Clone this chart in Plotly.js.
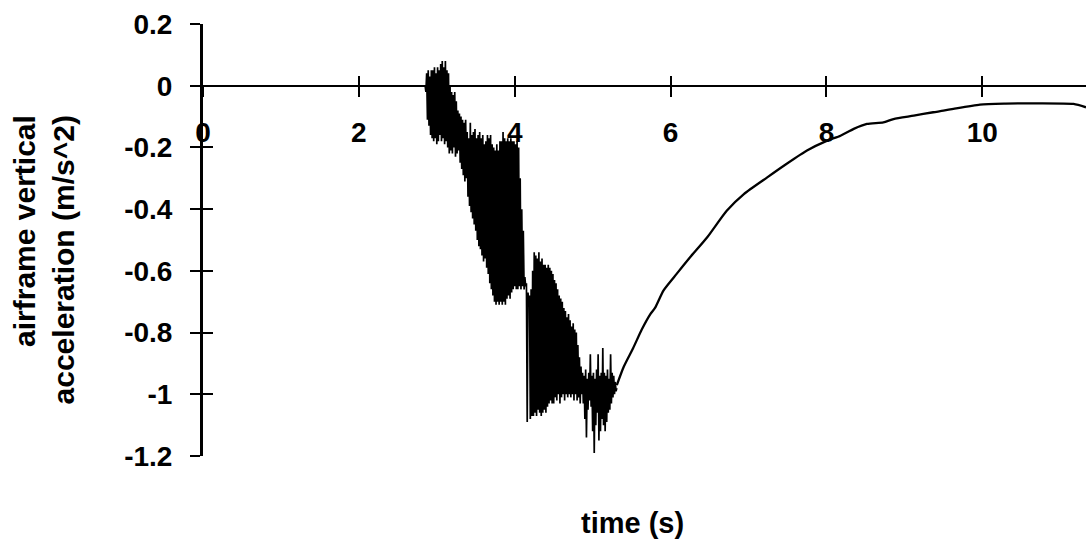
<!DOCTYPE html>
<html>
<head>
<meta charset="utf-8">
<script src="https://cdn.plot.ly/plotly-3.0.1.min.js"></script>
<style>html,body{margin:0;padding:0;background:#fff;}#chart{width:1086px;height:548px;}</style>
</head>
<body>
<div id="chart"></div>
<script>
// ---- data ----
const xTickVals = [0, 2, 4, 6, 8, 10];
const xTickText = ["0", "2", "4", "6", "8", "10"];
const yTickVals = [0.2, 0, -0.2, -0.4, -0.6, -0.8, -1, -1.2];
const yTickText = ["0.2", "0", "-0.2", "-0.4", "-0.6", "-0.8", "-1", "-1.2"];
const xRange = [0, 11.33];
const yRange = [-1.2, 0.2];

// quiet segment before the event
const quietTime = [0, 2.84];
const quietAccel = [0, 0];

// noisy segment, sampled every 0.01 s starting at t = 2.85 s
const noisyStart = 2.85;
const noisyStep = 0.01;
const noisyAccel = [
  0.00, -0.02, 0.04, -0.11, 0.05, -0.13, 0.03, -0.16, 0.05, -0.17,
  0.05, -0.18, 0.06, -0.17, 0.04, -0.19, 0.06, -0.18, 0.05, -0.16,
  0.07, -0.18, 0.08, -0.17, 0.06, -0.19, 0.08, -0.18, 0.05, -0.20,
  0.04, -0.22, 0.00, -0.21, -0.02, -0.22, -0.03, -0.20, -0.02, -0.23,
  -0.05, -0.22, -0.08, -0.21, -0.09, -0.25, -0.10, -0.27, -0.11, -0.29,
  -0.12, -0.31, -0.11, -0.30, -0.15, -0.36, -0.17, -0.39, -0.12, -0.41,
  -0.16, -0.43, -0.15, -0.45, -0.14, -0.47, -0.17, -0.50, -0.16, -0.52,
  -0.15, -0.53, -0.17, -0.55, -0.16, -0.57, -0.19, -0.56, -0.18, -0.59,
  -0.16, -0.61, -0.17, -0.64, -0.16, -0.66, -0.19, -0.68, -0.20, -0.70,
  -0.21, -0.71, -0.19, -0.70, -0.21, -0.71, -0.18, -0.70, -0.18, -0.71,
  -0.15, -0.70, -0.17, -0.71, -0.18, -0.69, -0.17, -0.68, -0.18, -0.69,
  -0.17, -0.67, -0.18, -0.66, -0.18, -0.65, -0.19, -0.66, -0.18, -0.66,
  -0.20, -0.65, -0.30, -0.66, -0.40, -0.65, -0.47, -0.66, -0.62, -0.65,
  -0.64, -1.09, -0.67, -0.70, -0.68, -1.08, -0.66, -1.07, -0.60, -1.07,
  -0.54, -1.06, -0.55, -1.07, -0.56, -1.05, -0.54, -1.06, -0.57, -1.07,
  -0.56, -1.06, -0.58, -1.05, -0.58, -1.06, -0.59, -1.04, -0.58, -1.03,
  -0.59, -1.02, -0.60, -1.03, -0.61, -1.03, -0.63, -1.01, -0.64, -1.02,
  -0.66, -1.00, -0.68, -1.03, -0.69, -1.01, -0.70, -1.00, -0.72, -1.02,
  -0.73, -1.00, -0.75, -1.01, -0.74, -1.00, -0.76, -1.01, -0.78, -1.00,
  -0.77, -1.02, -0.79, -1.00, -0.80, -1.02, -0.84, -1.01, -0.88, -1.03,
  -0.91, -1.00, -0.93, -1.03, -0.94, -1.08, -0.92, -1.14, -0.95, -1.05,
  -0.93, -1.02, -0.87, -1.04, -0.94, -1.12, -0.93, -1.19, -0.95, -1.10,
  -0.92, -1.06, -0.87, -1.15, -0.94, -1.12, -0.93, -1.08, -0.85, -1.10,
  -0.93, -1.12, -0.94, -1.09, -0.92, -1.06, -0.95, -1.05, -0.87, -1.03,
  -0.93, -1.01, -0.94, -1.00, -0.96, -0.99, -0.98
];

// recovery segment
const recoveryTime = [5.31, 5.40, 5.52, 5.63, 5.74, 5.80, 5.91, 6.08, 6.25, 6.47,
  6.72, 6.94, 7.24, 7.49, 7.75, 8.01, 8.18, 8.35, 8.52, 8.73,
  8.86, 9.12, 9.37, 9.50, 9.63, 9.97, 10.3, 10.66, 11.17, 11.33];
const recoveryAccel = [-0.97, -0.91, -0.85, -0.79, -0.74, -0.72, -0.663, -0.609, -0.556, -0.491,
  -0.405, -0.351, -0.297, -0.253, -0.21, -0.178, -0.162, -0.14, -0.124, -0.119,
  -0.108, -0.097, -0.086, -0.081, -0.075, -0.061, -0.058, -0.057, -0.059, -0.07];

const xTitle = "time (s)";
const yTitle = "airframe vertical<br>acceleration (m/s^2)";

// ---- styling ----
const FONT = "Liberation Sans, Arial, Helvetica, sans-serif";
const traces = [
  {x: quietTime, y: quietAccel, type: "scatter", mode: "lines", line: {color: "#000", width: 1.6}, hoverinfo: "skip"},
  {y: noisyAccel, x0: noisyStart, dx: noisyStep, type: "scatter", mode: "lines", line: {color: "#000", width: 1.7}, hoverinfo: "skip"},
  {x: recoveryTime, y: recoveryAccel, type: "scatter", mode: "lines", line: {color: "#000", width: 2.3, shape: "spline", smoothing: 0.6}, hoverinfo: "skip"},
  // empty trace so the overlaid tick-only axes (crossing ticks) get drawn
  {x: [], y: [], xaxis: "x2", yaxis: "y2", type: "scatter", mode: "lines", hoverinfo: "skip"}
];

const zeroPos = (0 - yRange[0]) / (yRange[1] - yRange[0]);
const tickFont = {family: FONT, size: 28, color: "#000", weight: "bold"};

const layout = {
  width: 1086, height: 548,
  margin: {l: 203, r: 0, t: 24, b: 92, pad: 0},
  paper_bgcolor: "#fff", plot_bgcolor: "#fff",
  showlegend: false,
  xaxis: {
    range: xRange, anchor: "free", position: zeroPos,
    showline: true, linecolor: "#000", linewidth: 2,
    ticks: "outside", ticklen: 10, tickwidth: 2, tickcolor: "#000",
    tickvals: xTickVals, ticktext: xTickText, tickfont: tickFont,
    ticklabelstandoff: 12,
    showgrid: false, zeroline: false
  },
  xaxis2: {
    range: xRange, overlaying: "x", anchor: "free", position: zeroPos,
    showline: false, ticks: "inside", ticklen: 10, tickwidth: 2, tickcolor: "#000",
    tickvals: xTickVals, showticklabels: false, showgrid: false, zeroline: false
  },
  yaxis: {
    range: yRange, anchor: "x",
    showline: true, linecolor: "#000", linewidth: 3,
    ticks: "outside", ticklen: 10, tickwidth: 2, tickcolor: "#000",
    tickvals: yTickVals, ticktext: yTickText, tickfont: tickFont,
    ticklabelstandoff: 12,
    showgrid: false, zeroline: false
  },
  yaxis2: {
    range: yRange, overlaying: "y", anchor: "x", side: "left",
    showline: false, ticks: "inside", ticklen: 10, tickwidth: 2, tickcolor: "#000",
    tickvals: yTickVals, showticklabels: false, showgrid: false, zeroline: false
  },
  annotations: [
    {text: yTitle, xref: "paper", yref: "paper", x: -0.179, y: 0.794,
     xanchor: "center", yanchor: "top", textangle: -90, align: "right", showarrow: false,
     font: {family: FONT, size: 30, color: "#000", weight: "bold"}},
    {text: xTitle, xref: "paper", yref: "paper", x: 0.486, y: -0.155,
     xanchor: "center", yanchor: "middle", showarrow: false,
     font: {family: FONT, size: 29, color: "#000", weight: "bold"}}
  ]
};

Plotly.newPlot("chart", traces, layout, {displayModeBar: false, staticPlot: true});
</script>
</body>
</html>
